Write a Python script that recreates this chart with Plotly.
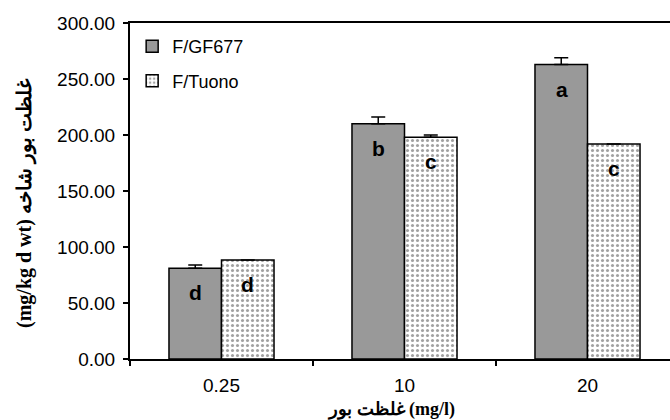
import plotly.graph_objects as go

categories = ["0.25", "10", "20"]
gf677 = [81, 210, 263]
gf677_err = [3, 6, 6]
tuono = [88.5, 198, 192]
tuono_err = [0, 2, 0]
gf677_letters = ["d", "b", "a"]
tuono_letters = ["d", "c", "c"]
series_names = ["F/GF677", "F/Tuono"]

FONT = "Liberation Sans, Arial, sans-serif"
SERIF = "Liberation Serif, Times New Roman, DejaVu Serif, serif"

fig = go.Figure()
fig.add_trace(go.Bar(
    x=categories, y=gf677, name=series_names[0], legendgroup="a",
    marker=dict(color="#999999", line=dict(color="black", width=1.5)),
    error_y=dict(type="data", array=gf677_err, arrayminus=[0]*3, symmetric=False,
                 color="black", thickness=1.5, width=7),
))
fig.add_trace(go.Bar(
    x=categories, y=tuono, name=series_names[1], legendgroup="b",
    marker=dict(color="white", line=dict(color="black", width=1.5),
                pattern=dict(shape=".", fgcolor="#444444", bgcolor="white", size=5, solidity=0.3)),
    error_y=dict(type="data", array=tuono_err, arrayminus=[0]*3, symmetric=False,
                 color="black", thickness=1.5, width=7),
))

annotations = []
for i, c in enumerate(categories):
    annotations.append(dict(x=i, y=gf677[i] - 22, xref="x", yref="y", xshift=-26,
                            text=gf677_letters[i], showarrow=False,
                            font=dict(family=FONT, size=21, color="black", weight="bold")))
    annotations.append(dict(x=i, y=tuono[i] - 22, xref="x", yref="y", xshift=26,
                            text=tuono_letters[i], showarrow=False,
                            font=dict(family=FONT, size=21, color="black", weight="bold")))

W, H = 670, 420
L, R, T, B = 130, 0, 23, 61
pw, ph = W - L - R, H - T - B

annotations.append(dict(x=(391 - L) / pw, y=(420 - 409 - B) / ph, xref="paper", yref="paper",
                        showarrow=False, xanchor="center", yanchor="middle",
                        text="<b>غلظت بور (mg/l)</b>",
                        font=dict(family=SERIF, size=18, color="black")))
annotations.append(dict(x=(25 - L) / pw, y=(420 - 203 - B) / ph, xref="paper", yref="paper",
                        showarrow=False, xanchor="center", yanchor="middle",
                        textangle=-90, text="<b>(mg/kg d wt) غلظت بور شاخه</b>",
                        font=dict(family=SERIF, size=20, color="black")))

fig.update_layout(
    width=W, height=H,
    margin=dict(l=L, r=R, t=T, b=B),
    paper_bgcolor="white", plot_bgcolor="white",
    barmode="group", bargap=0.426, bargroupgap=0,
    font=dict(family=FONT, size=19, color="black"),
    showlegend=True,
    legend=dict(x=0.004, y=0.985, xanchor="left", yanchor="top",
                font=dict(family=FONT, size=18), bgcolor="rgba(0,0,0,0)",
                traceorder="grouped", tracegroupgap=8, itemwidth=30),
    annotations=annotations,
    xaxis=dict(range=[-0.5, 2.5 - 9/183], tickson="boundaries", ticks="outside",
               ticklen=5, tickwidth=1.5, tickcolor="black",
               showline=True, linecolor="black", linewidth=2, mirror=True,
               showgrid=False, ticklabelstandoff=8, zeroline=False),
    yaxis=dict(range=[0, 300], dtick=50, tickformat=".2f", ticks="outside",
               ticklen=5, tickwidth=1.5, tickcolor="black",
               showline=True, linecolor="black", linewidth=2,
               showgrid=False, zeroline=False, ticklabelstandoff=4),
)

fig.write_html("out.html")
